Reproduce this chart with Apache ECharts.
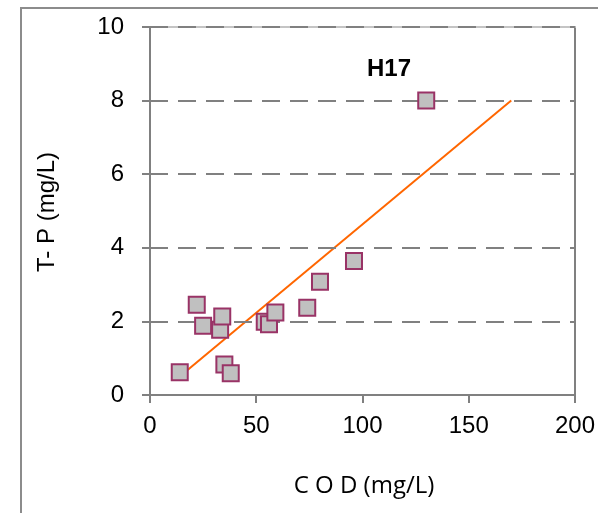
<!DOCTYPE html>
<html>
<head>
<meta charset="utf-8">
<script src="https://cdn.jsdelivr.net/npm/echarts@6/dist/echarts.min.js"></script>
<style>html,body{margin:0;padding:0;background:#fff}#c{width:598px;height:513px}</style>
</head>
<body>
<div id="c"></div>
<script>
// COD (mg/L)
var codValues = [14, 22, 25, 33, 34, 35, 38, 54, 56, 59, 74, 80, 96, 130];
// T-P (mg/L)
var tpValues = [0.62, 2.45, 1.88, 1.77, 2.13, 0.83, 0.59, 1.99, 1.92, 2.24, 2.37, 3.08, 3.64, 8.0];
// trendline endpoints
var trendX = [14, 170];
var trendY = [0.5, 8.0];
var xTicks = [0, 50, 100, 150, 200];
var yTicks = [0, 2, 4, 6, 8, 10];
var titleText = 'H17';
var xTitle = 'C O D (mg/L)';
var yTitle = 'T- P (mg/L)';

var chart = echarts.init(document.getElementById('c'), null, {renderer: 'canvas'});
var pts = codValues.map(function (v, i) { return [v, tpValues[i]]; });
var trend = trendX.map(function (v, i) { return [v, trendY[i]]; });
var gridColor = '#808080';
var lblFont = {color: '#000', fontSize: 24, fontFamily: 'Liberation Sans, Arial, sans-serif'};

chart.setOption({
  animation: false,
  backgroundColor: '#fff',
  title: {
    text: titleText, left: 384, top: 52, textAlign: 'center',
    textStyle: {fontSize: 24, fontWeight: 'bold', color: '#000', fontFamily: 'Liberation Sans, Arial, sans-serif'}
  },
  graphic: [
    {type: 'rect', shape: {x: 21, y: 8, width: 700, height: 700}, style: {fill: null, stroke: '#8c8c8c', lineWidth: 2}, z: -1},
    {type: 'text', x: 364, y: 486, style: {text: xTitle, x: 0, y: 0, textAlign: 'center', textVerticalAlign: 'middle', fill: '#000', font: '24px "Open Sans", sans-serif'}},
    {type: 'text', rotation: Math.PI / 2, x: 47, y: 212, style: {text: yTitle, x: 0, y: 0, textAlign: 'center', textVerticalAlign: 'middle', fill: '#000', font: '24px "Liberation Sans", Arial, sans-serif'}}
  ],
  grid: {left: 150, top: 27, right: 19, bottom: 118, show: false},
  xAxis: [{
    type: 'value', min: xTicks[0], max: xTicks[xTicks.length - 1], interval: 50,
    axisLine: {show: true, onZero: false, lineStyle: {color: gridColor, width: 2}},
    axisTick: {show: true, length: 8, lineStyle: {color: gridColor, width: 2}},
    axisLabel: Object.assign({margin: 19}, lblFont),
    splitLine: {show: false}, z: 1
  }, {
    type: 'value', position: 'top', min: 0, max: 200,
    axisLine: {show: true, onZero: false, lineStyle: {color: '#c4c4c4', width: 2}},
    axisTick: {show: false}, axisLabel: {show: false}, splitLine: {show: false}, z: 0
  }],
  yAxis: [{
    type: 'value', min: yTicks[0], max: yTicks[yTicks.length - 1], interval: 2,
    axisLine: {show: true, onZero: false, lineStyle: {color: gridColor, width: 2}},
    axisTick: {show: true, length: 8, lineStyle: {color: gridColor, width: 2}},
    axisLabel: Object.assign({margin: 26}, lblFont),
    splitLine: {show: true, lineStyle: {color: gridColor, width: 2, type: [18, 10]}},
    z: 3
  }, {
    type: 'value', position: 'right', min: 0, max: 10,
    axisLine: {show: true, onZero: false, lineStyle: {color: gridColor, width: 2}},
    axisTick: {show: false}, axisLabel: {show: false}, splitLine: {show: false}
  }],
  series: [{
    type: 'line', data: trend, showSymbol: false, symbol: 'none',
    lineStyle: {color: '#ff6600', width: 2}, z: 2
  }, {
    type: 'scatter', data: pts, symbol: 'rect', symbolSize: 16,
    itemStyle: {color: '#c0c0c0', borderColor: '#993366', borderWidth: 2, opacity: 1}, z: 3
  }]
});
</script>
</body>
</html>
